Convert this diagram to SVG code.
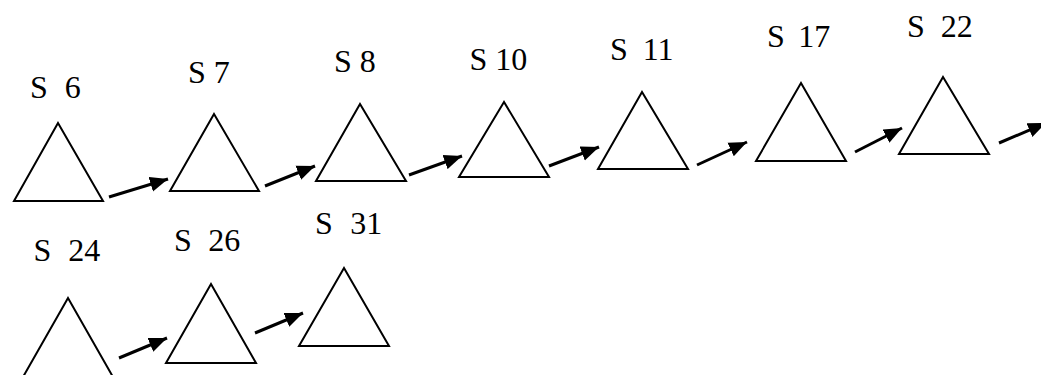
<svg xmlns="http://www.w3.org/2000/svg" width="1041" height="375" viewBox="0 0 1041 375">
<style>
.tri{fill:#fff;stroke:#000;stroke-width:2;stroke-linejoin:miter}
.lbl{font-family:"Liberation Serif","Times New Roman",serif;font-size:32px;fill:#000}
.arr{stroke:#000;stroke-width:3;fill:none;marker-end:url(#ah)}
</style>
<defs>
<marker id="ah" markerUnits="userSpaceOnUse" markerWidth="20" markerHeight="16" refX="18" refY="7.5" orient="auto" viewBox="0 0 20 15">
<path d="M0,0 L18,7.5 L0,15 Z" fill="#000"/>
</marker>
</defs>
<rect width="1041" height="375" fill="#fff"/>
<g id="connectors">
<line class="arr" x1="109" y1="197" x2="168" y2="179"/>
<line class="arr" x1="265" y1="186" x2="315" y2="166"/>
<line class="arr" x1="409" y1="175" x2="462" y2="156"/>
<line class="arr" x1="549" y1="166" x2="599" y2="147"/>
<line class="arr" x1="697" y1="165" x2="747" y2="142"/>
<line class="arr" x1="855" y1="152" x2="902" y2="128"/>
<line class="arr" x1="999" y1="143" x2="1046" y2="123"/>
<line class="arr" x1="119" y1="358" x2="167" y2="338"/>
<line class="arr" x1="255" y1="333" x2="303" y2="313"/>
</g>
<g id="S6"><polygon class="tri" points="58,123 14,201 103,201"/><text class="lbl" x="30" y="98" word-spacing="9">S 6</text></g>
<g id="S7"><polygon class="tri" points="214,114 170,191 259,191"/><text class="lbl" x="188" y="83">S 7</text></g>
<g id="S8"><polygon class="tri" points="360,104 316,181 406,181"/><text class="lbl" x="334" y="72">S 8</text></g>
<g id="S10"><polygon class="tri" points="504,102 459,177 549,177"/><text class="lbl" x="469.5" y="70">S 10</text></g>
<g id="S11"><polygon class="tri" points="642,92 598,169 688,169"/><text class="lbl" x="610" y="60" word-spacing="7">S 11</text></g>
<g id="S17"><polygon class="tri" points="801,83 756,161 846,161"/><text class="lbl" x="767" y="47" word-spacing="5.5">S 17</text></g>
<g id="S22"><polygon class="tri" points="943,77 899,154 989,154"/><text class="lbl" x="907" y="36.5" word-spacing="8">S 22</text></g>
<g id="S24"><polygon class="tri" points="68,298 23,377 113,377"/><text class="lbl" x="33.5" y="261" word-spacing="9">S 24</text></g>
<g id="S26"><polygon class="tri" points="211,284 166,363 256,363"/><text class="lbl" x="174" y="251" word-spacing="8.5">S 26</text></g>
<g id="S31"><polygon class="tri" points="344,268 299,346 389,346"/><text class="lbl" x="315" y="234" word-spacing="9.5">S 31</text></g>
</svg>
